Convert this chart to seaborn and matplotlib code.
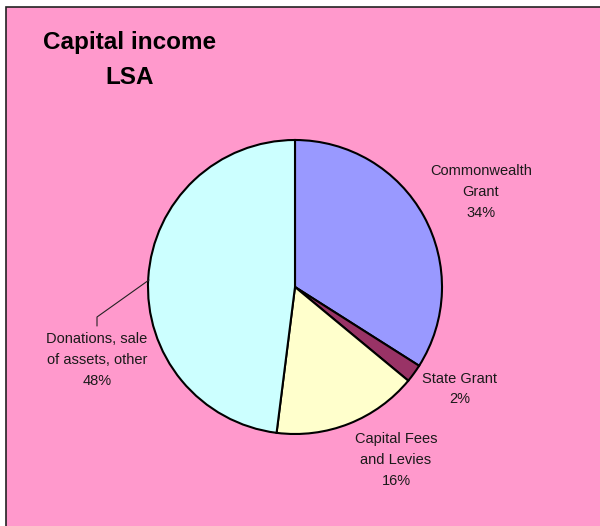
import matplotlib
matplotlib.use("Agg")
import matplotlib.pyplot as plt
from matplotlib.patches import Rectangle
import seaborn as sns

# data
categories = ["Commonwealth\nGrant", "State Grant", "Capital Fees\nand Levies",
              "Donations, sale\nof assets, other"]
shares = [34, 2, 16, 48]
colors = ["#9999FF", "#993366", "#FFFFCC", "#CCFFFF"]
title_lines = ["Capital income", "LSA"]

sns.set_theme(style="white")
plt.rcParams["font.family"] = ["Liberation Sans", "DejaVu Sans"]

W, H = 600, 526
fig = plt.figure(figsize=(W / 100, H / 100), dpi=100)
fig.patch.set_facecolor("white")

# pink chart area with a border on the top and left
fig.patches.append(Rectangle((6 / W, -0.1), 1.2, 1.1 - 7 / H, transform=fig.transFigure,
                             facecolor="#FF99CC", edgecolor="#222222", lw=1.2, zorder=-5))

# pie placed in pixel terms: centre (295, 287), radius 147 px
cx, cy, R, box = 295, 287, 147, 160
ax = fig.add_axes([(cx - box) / W, (H - cy - box) / H, 2 * box / W, 2 * box / H])
ax.pie(shares, colors=colors, startangle=90, counterclock=False, radius=1,
       wedgeprops=dict(edgecolor="black", linewidth=1.5))
ax.set_xlim(-box / R, box / R)
ax.set_ylim(-box / R, box / R)
ax.set_aspect("equal")
ax.axis("off")
ax.patch.set_alpha(0)

# label positions (data units, radius = 1)
label_pos = [(1.265, 0.646), (1.122, -0.694), (0.687, -1.177), (-1.347, -0.497)]
for name, val, (x, y) in zip(categories, shares, label_pos):
    ax.text(x, y, f"{name}\n{val}%", ha="center", va="center", fontsize=10.5,
            color="#1a1a1a", linespacing=1.62, clip_on=False)

# leader line for the donations label
ax.plot([(97 - cx) / R, (97 - cx) / R, (149 - cx) / R],
        [(cy - 326) / R, (cy - 317) / R, (cy - 280) / R],
        color="#222222", lw=0.8, clip_on=False)

fig.text(130 / W, 1 - 43 / H, title_lines[0], ha="center", va="center",
         fontsize=17.5, fontweight="bold", color="black")
fig.text(130 / W, 1 - 77 / H, title_lines[1], ha="center", va="center",
         fontsize=17.5, fontweight="bold", color="black")

fig.savefig("out.png", dpi=100)
